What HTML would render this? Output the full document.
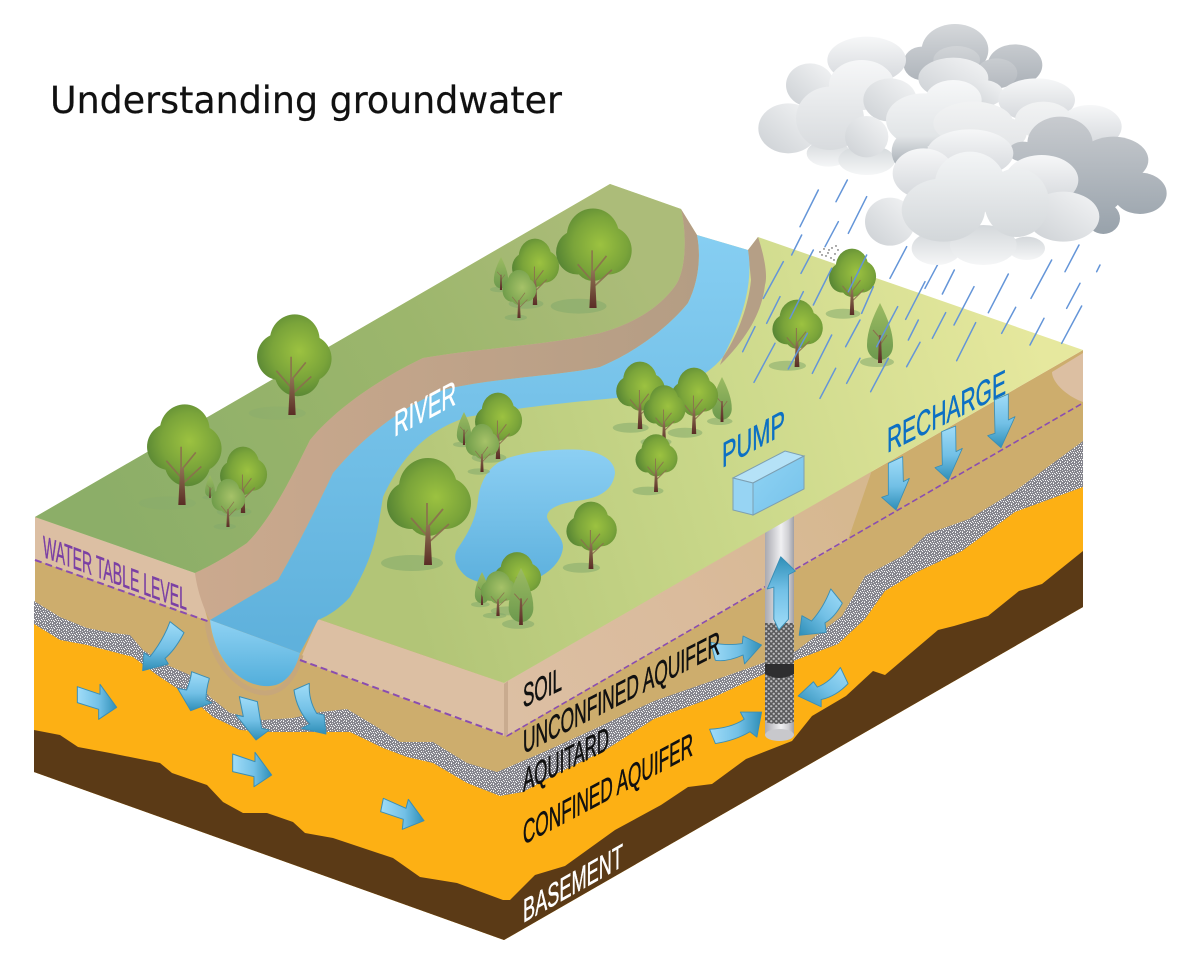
<!DOCTYPE html>
<html><head><meta charset="utf-8"><title>Understanding groundwater</title>
<style>html,body{margin:0;padding:0;background:#fff}svg{display:block}text{font-family:"Liberation Sans",sans-serif}</style></head>
<body>
<svg width="1200" height="966" viewBox="0 0 1200 966" xmlns="http://www.w3.org/2000/svg">
<defs>
<pattern id="grav" width="7" height="7" patternUnits="userSpaceOnUse"><rect width="7" height="7" fill="#85858d"/>
<rect x="0" y="0" width="1" height="1" fill="#e8e8ea"/><rect x="3" y="0" width="1" height="1" fill="#fff"/><rect x="5" y="1" width="1" height="1" fill="#d8d8dc"/><rect x="1" y="2" width="1" height="1" fill="#fff"/><rect x="3" y="2" width="1" height="1" fill="#cfcfd4"/><rect x="6" y="3" width="1" height="1" fill="#fff"/><rect x="0" y="4" width="1" height="1" fill="#d8d8dc"/><rect x="2" y="4" width="1" height="1" fill="#fff"/><rect x="4" y="4" width="1" height="1" fill="#eee"/><rect x="5" y="5" width="1" height="1" fill="#fff"/><rect x="1" y="6" width="1" height="1" fill="#eee"/><rect x="3" y="6" width="1" height="1" fill="#d8d8dc"/></pattern>
<pattern id="mesh" width="5" height="5" patternUnits="userSpaceOnUse"><rect width="5" height="5" fill="#5a5a5c"/><circle cx="1.25" cy="1.25" r="1.15" fill="#bdbdc0"/><circle cx="3.75" cy="3.75" r="1.15" fill="#bdbdc0"/></pattern>
<linearGradient id="gL" gradientUnits="userSpaceOnUse" x1="100" y1="500" x2="620" y2="230"><stop offset="0" stop-color="#8cae68"/><stop offset=".6" stop-color="#9cb66c"/><stop offset="1" stop-color="#acbc79"/></linearGradient>
<linearGradient id="gR" gradientUnits="userSpaceOnUse" x1="400" y1="560" x2="1050" y2="370"><stop offset="0" stop-color="#b2c577"/><stop offset=".5" stop-color="#cad88a"/><stop offset="1" stop-color="#e6e89e"/></linearGradient>
<linearGradient id="bank" gradientUnits="userSpaceOnUse" x1="200" y1="0" x2="700" y2="0"><stop offset="0" stop-color="#cba98e"/><stop offset="1" stop-color="#b49d84"/></linearGradient>
<linearGradient id="water" gradientUnits="userSpaceOnUse" x1="0" y1="235" x2="0" y2="640"><stop offset="0" stop-color="#86cef2"/><stop offset="1" stop-color="#5fb1dc"/></linearGradient>
<linearGradient id="pond" gradientUnits="userSpaceOnUse" x1="0" y1="450" x2="0" y2="585"><stop offset="0" stop-color="#8ccff3"/><stop offset="1" stop-color="#5cb0dd"/></linearGradient>
<linearGradient id="sect" x1="0" y1="0" x2="0" y2="1"><stop offset="0" stop-color="#8fd2f3"/><stop offset="1" stop-color="#52aedb"/></linearGradient>
<linearGradient id="lband" gradientUnits="userSpaceOnUse" x1="504" y1="700" x2="860" y2="500"><stop offset="0" stop-color="#dcbfa3"/><stop offset=".5" stop-color="#dabb9c"/><stop offset="1" stop-color="#d6b88f"/></linearGradient>
<linearGradient id="wellG" x1="0" y1="0" x2="1" y2="0"><stop offset="0" stop-color="#a9a9b0"/><stop offset=".25" stop-color="#c9c9ce"/><stop offset=".55" stop-color="#f0f0f2"/><stop offset=".8" stop-color="#d0d0d4"/><stop offset="1" stop-color="#9f9fa6"/></linearGradient>
<linearGradient id="aV" x1="0" y1="0" x2="0" y2="1"><stop offset="0" stop-color="#a0dcf8"/><stop offset=".55" stop-color="#72c0e6"/><stop offset="1" stop-color="#2f8fb8"/></linearGradient>
<linearGradient id="aH" x1="0" y1="0" x2="1" y2="0"><stop offset="0" stop-color="#a0dcf8"/><stop offset=".55" stop-color="#72c0e6"/><stop offset="1" stop-color="#2f8fb8"/></linearGradient>
<linearGradient id="aU" x1="0" y1="1" x2="0" y2="0"><stop offset="0" stop-color="#a0dcf8"/><stop offset=".55" stop-color="#72c0e6"/><stop offset="1" stop-color="#2f8fb8"/></linearGradient>
<linearGradient id="aD" x1="1" y1="0" x2="0" y2="1"><stop offset="0" stop-color="#a0dcf8"/><stop offset=".5" stop-color="#72c0e6"/><stop offset="1" stop-color="#2f8fb8"/></linearGradient>
<linearGradient id="box1" x1="0" y1="0" x2="1" y2="1"><stop offset="0" stop-color="#8fd3f4"/><stop offset="1" stop-color="#76c2ea"/></linearGradient>
<linearGradient id="cl" x1="0" y1="0" x2="0" y2="1"><stop offset="0" stop-color="#f6f7f8"/><stop offset="1" stop-color="#d4d7db"/></linearGradient>
<linearGradient id="clS" x1="1" y1="0" x2="0" y2="1"><stop offset="0" stop-color="#f4f5f6"/><stop offset="1" stop-color="#ccd0d4"/></linearGradient>
<linearGradient id="clF" x1="0" y1="0" x2="0" y2="1"><stop offset="0" stop-color="#d4d8db"/><stop offset="1" stop-color="#f5f6f7"/></linearGradient>
<linearGradient id="clA" gradientUnits="userSpaceOnUse" x1="0" y1="150" x2="0" y2="420"><stop offset="0" stop-color="#f6f7f8"/><stop offset="1" stop-color="#d8dbde"/></linearGradient>
<linearGradient id="clM" gradientUnits="userSpaceOnUse" x1="0" y1="210" x2="0" y2="490"><stop offset="0" stop-color="#f7f8f9"/><stop offset=".6" stop-color="#e2e5e7"/><stop offset="1" stop-color="#98a0a8"/></linearGradient>
<linearGradient id="clB" gradientUnits="userSpaceOnUse" x1="0" y1="210" x2="0" y2="410"><stop offset="0" stop-color="#f8f9f9"/><stop offset="1" stop-color="#e4e6e8"/></linearGradient>
<linearGradient id="clC" gradientUnits="userSpaceOnUse" x1="0" y1="425" x2="0" y2="700"><stop offset="0" stop-color="#f3f5f6"/><stop offset="1" stop-color="#d2d6d9"/></linearGradient>
<linearGradient id="cd1" gradientUnits="userSpaceOnUse" x1="0" y1="45" x2="0" y2="235"><stop offset="0" stop-color="#d4d7da"/><stop offset="1" stop-color="#aab0b7"/></linearGradient>
<linearGradient id="cd1b" gradientUnits="userSpaceOnUse" x1="0" y1="105" x2="0" y2="235"><stop offset="0" stop-color="#d2d5d8"/><stop offset="1" stop-color="#b4b9bf"/></linearGradient>
<linearGradient id="cd2" gradientUnits="userSpaceOnUse" x1="0" y1="320" x2="0" y2="672"><stop offset="0" stop-color="#c8cbcf"/><stop offset="1" stop-color="#98a2ab"/></linearGradient>
<radialGradient id="crown" gradientUnits="userSpaceOnUse" cx="8" cy="-68" r="50"><stop offset="0" stop-color="#9cc240"/><stop offset=".6" stop-color="#7aa43a"/><stop offset="1" stop-color="#578534"/></radialGradient>
<radialGradient id="crownL" gradientUnits="userSpaceOnUse" cx="8" cy="-68" r="50"><stop offset="0" stop-color="#a6c268"/><stop offset="1" stop-color="#6f9c4a"/></radialGradient>
<linearGradient id="coneG" gradientUnits="userSpaceOnUse" x1="0" y1="-60" x2="0" y2="-4"><stop offset="0" stop-color="#9cbb62"/><stop offset="1" stop-color="#6d9a4e"/></linearGradient>
<linearGradient id="tr" gradientUnits="userSpaceOnUse" x1="0" y1="-40" x2="0" y2="0"><stop offset="0" stop-color="#8f7354"/><stop offset="1" stop-color="#5a2c25"/></linearGradient>
<g id="t1"><ellipse cx="-16" cy="-2" rx="31" ry="8" fill="#84aa6c" opacity=".55"/><g fill="url(#crown)"><circle cx="0" cy="-78" r="29"/><circle cx="-17" cy="-60" r="24"/><circle cx="17" cy="-62" r="26"/><circle cx="0" cy="-50" r="21"/></g>
<g stroke="#8b6f4e" stroke-width="1.8" fill="none" opacity=".9"><path d="M0-28L-17-47M0-22L21-41M0-38L15-56M-1-35V-62"/></g><path d="M-2-40H2L4 0H-4Z" fill="url(#tr)"/></g>
<g id="t3"><ellipse cx="-16" cy="-2" rx="31" ry="7" fill="#84aa6c" opacity=".3"/><g fill="url(#crown)"><circle cx="3" cy="-80" r="27"/><circle cx="-13" cy="-62" r="25"/><circle cx="18" cy="-60" r="25"/><circle cx="6" cy="-45" r="25"/></g>
<g stroke="#8b6f4e" stroke-width="1.8" fill="none" opacity=".9"><path d="M0-28L-17-47M0-22L21-41M0-38L15-56M-1-35V-62"/></g><path d="M-2-40H2L4 0H-4Z" fill="url(#tr)"/></g>
<g id="t2"><ellipse cx="-8" cy="-1" rx="28" ry="7" fill="#84aa6c" opacity=".55"/><g fill="url(#crownL)"><circle cx="0" cy="-78" r="29"/><circle cx="-17" cy="-60" r="24"/><circle cx="17" cy="-62" r="26"/><circle cx="0" cy="-50" r="21"/></g>
<g stroke="#8b6f4e" stroke-width="1.8" fill="none" opacity=".9"><path d="M0-28L-17-47M0-22L21-41M0-38L15-56"/></g><path d="M-2-40H2L4 0H-4Z" fill="url(#tr)"/></g>
<g id="c1"><ellipse cx="-3" cy="-1" rx="17" ry="5" fill="#84aa6c" opacity=".55"/><path d="M0-60C-7-46-13-32-13-18C-13-8-6-3 0-3C6-3 13-8 13-18C13-32 7-46 0-60Z" fill="url(#coneG)"/><path d="M0-25L-7-33M0-18L7-28" stroke="#8b6f4e" stroke-width="1" fill="none"/><path d="M-1-28H1L2 0H-2Z" fill="url(#tr)"/></g>
</defs>

<text x="50" y="113" style="font-family:'DejaVu Sans',sans-serif" font-size="37" textLength="512" lengthAdjust="spacingAndGlyphs" fill="#111" stroke="#111" stroke-width=".2">Understanding groundwater</text>

<!-- faces -->
<polygon points="35,517 504,683 1083,350 1083,607 504,940 35,772" fill="#cdad6d"/>
<polygon points="35,517 195,573 208,621 35,560" fill="#dcbfa3"/>
<polygon points="318,619 504,683 504,736 300,660" fill="#dcbfa3"/>
<polygon points="504,683 872,470 848,540 506,736" fill="url(#lband)"/>
<polygon points="504,684 508,681 508,734 504,736" fill="#c9ab8f"/>
<path d="M1083,353L1052,372C1052,382 1066,396 1083,402Z" fill="#dcbfa2"/>
<path d="M207,622C212,665 240,692 265,693C285,693 297,672 301,655" fill="none" stroke="#c7a77a" stroke-width="5"/>
<!-- gravel -->
<polygon fill="url(#grav)" points="34,601 60,617 87,628 113,633 130,635 143,650 167,665 190,675 210,697 230,713 263,720 293,718 320,712 347,709 377,727 400,742 433,742 467,763 497,772 504,769 546,751 592,730 654,701 746,669 796,651 842,616 865,576 904,555 927,534 969,519 1015,491 1083,441 1083,607 504,940 34,772"/>
<!-- orange -->
<polygon fill="#fdb014" points="34,624 60,640 87,645 133,657 157,675 187,695 213,717 240,730 270,732 300,732 350,732 383,748 407,757 433,763 467,783 500,796 523,792 558,773 604,751 654,719 712,698 762,675 796,660 838,644 865,619 885,591 915,573 962,551 1015,512 1083,487 1083,607 504,940 34,772"/>
<!-- brown -->
<polygon fill="#5b3a16" points="34,730 60,735 78,747 110,753 160,763 172,773 207,785 223,802 243,813 267,813 293,822 305,833 333,838 393,858 420,877 457,883 503,900 510,900 535,875 565,866 615,830 661,805 688,787 712,784 746,759 792,741 812,716 846,696 873,671 885,675 938,630 954,626 988,616 1019,591 1042,584 1083,551 1083,607 504,940 34,772"/>

<!-- dashed water table -->
<g fill="none" stroke="#8a4db0" stroke-width="2" stroke-dasharray="7 4"><path d="M35,560L210,622M300,660L507,736"/><path d="M507,736L1083,403" stroke-dasharray="6 3" stroke-width="1.6"/></g>

<!-- water section -->
<path d="M210,620L300,653C295,672 285,685 270,686C245,688 215,665 210,620Z" fill="url(#sect)"/>

<!-- well -->
<rect x="765" y="515" width="29" height="220" fill="url(#wellG)"/>
<ellipse cx="779.5" cy="735" rx="14.5" ry="6" fill="#c8c8cc"/>
<rect x="765" y="623" width="29" height="98" fill="url(#mesh)"/>
<ellipse cx="779.5" cy="721" rx="14.5" ry="3" fill="url(#mesh)"/>
<path d="M765,664H794V674Q779,682 765,674Z" fill="#2e2e30"/>

<!-- top surface -->
<polygon points="35,517 610,184 681,209 697,235 748,250 758,237 1083,350 504,683 318,619 210,620 195,573" fill="url(#gR)"/>
<path d="M35,517L610,184L681,209C686,230 687,265 677,283C665,302 640,322 600,333C550,345 480,348 423,358C383,377 337,407 310,440C295,470 273,517 247,543C225,558 210,566 195,573Z" fill="url(#gL)"/>
<path d="M681,209L697,235C702,260 697,285 688,303C670,325 640,350 600,367C560,376 490,378 443,390C400,408 363,437 333,473C313,515 297,547 278,580L210,620C204,610 197,590 195,573C210,566 225,558 247,543C273,517 295,470 310,440C337,407 383,377 423,358C480,348 550,345 600,333C640,322 665,302 677,283C687,265 686,230 681,209Z" fill="url(#bank)"/>
<path d="M748,250L758,237C764,255 768,275 765,285C762,310 750,335 720,365L723,357C735,340 748,310 751,280Z" fill="#b59f86"/>
<path d="M697,235L748,250C753,280 745,315 723,357C700,385 660,395 617,398C560,403 517,408 467,417C430,430 405,450 383,497C377,533 375,555 350,597C340,608 330,615 318,620L300,653L210,620L278,580C297,547 313,515 333,473C363,437 400,408 443,390C490,378 560,376 600,367C640,350 670,325 688,303C697,285 702,260 697,235Z" fill="url(#water)"/>
<path d="M583,450C560,448 520,452 503,460C490,466 480,480 478,500C476,515 472,528 458,548C451,558 458,570 467,577C480,585 500,586 525,582C545,578 562,563 563,547C563,535 548,525 547,517C547,508 560,503 583,500C600,497 613,490 615,473C615,460 600,452 583,450Z" fill="url(#pond)"/>

<!-- trees -->
<use href="#c1" transform="translate(501,290) scale(.55)"/>
<use href="#t1" transform="translate(593,308) scale(.9,.93)"/>
<use href="#t1" transform="translate(535,305) scale(.56,.62)"/>
<use href="#t2" transform="translate(519,318) scale(.4,.45)"/>
<use href="#t3" transform="translate(292,415) scale(.92,.94)"/>
<use href="#c1" transform="translate(464,445) scale(.55)"/>
<use href="#t1" transform="translate(498,459) scale(.56,.62)"/>
<use href="#t2" transform="translate(482,472) scale(.4,.45)"/>
<use href="#c1" transform="translate(210,498) scale(.38)"/>
<use href="#t3" transform="translate(182,505) scale(.92,.94)"/>
<use href="#t1" transform="translate(243,513) scale(.56,.62)"/>
<use href="#t2" transform="translate(228,527) scale(.4,.45)"/>
<use href="#t1" transform="translate(428,565) scale(1)"/>
<use href="#t1" transform="translate(591,569) scale(.6,.63)"/>
<use href="#c1" transform="translate(722,422) scale(.75)"/>
<use href="#t1" transform="translate(640,429) scale(.58,.63)"/>
<use href="#t1" transform="translate(694,434) scale(.56,.62)"/>
<use href="#t1" transform="translate(664,443) scale(.5,.54)"/>
<use href="#t1" transform="translate(656,492) scale(.5,.54)"/>
<use href="#t1" transform="translate(852,315) scale(.56,.62)"/>
<use href="#t1" transform="translate(797,367) scale(.6,.63)"/>
<use href="#c1" transform="translate(880,363) scale(1)"/>
<use href="#t1" transform="translate(517,612) scale(.56)"/>
<use href="#c1" transform="translate(482,605) scale(.55)"/>
<use href="#t2" transform="translate(498,616) scale(.42)"/>
<use href="#c1" transform="translate(521,625) scale(.95)"/>

<!-- pump box -->
<g stroke="#7d9fb2" stroke-width="1"><polygon points="733,478 785,451 804,456 753,483" fill="#b5e2f7"/><polygon points="733,478 753,483 753,515 733,510" fill="#97d4f3"/><polygon points="753,483 804,456 804,489 753,515" fill="url(#box1)"/></g>

<!-- arrows left -->
<g transform="translate(0,500) scale(.33333)" stroke="#3a8eb5" stroke-width="3" stroke-linejoin="round">
<path d="M510,365L552,398Q525,450 495,475L505,492L428,512L432,458L450,470Q490,420 510,365Z" fill="url(#aV)"/>
<path d="M575,515L628,535Q618,570 618,600L635,608L572,632L533,565L560,570Q572,540 575,515Z" fill="url(#aV)"/>
<path d="M718,590L772,605L785,685L808,690L768,720L708,645L730,650Z" fill="url(#aV)"/>
<path d="M882,570L928,550Q925,600 950,640L972,645L978,702L905,685L930,672Q890,630 882,570Z" fill="url(#aV)"/>
<polygon points="232,560 300,583 300,553 350,622 296,658 296,628 232,608" fill="url(#aH)"/>
<polygon points="698,762 765,785 765,757 815,825 762,860 762,830 698,815" fill="url(#aH)"/>
<polygon points="1150,895 1218,925 1225,898 1272,962 1207,988 1210,958 1142,935" fill="url(#aH)"/>
</g>
<!-- recharge arrows -->
<g transform="translate(600,170) scale(.33333)" stroke="#3a8eb5" stroke-width="2.5" stroke-linejoin="round" fill="url(#aV)">
<polygon points="865,880 908,860 910,935 928,925 888,1020 845,982 865,975"/>
<polygon points="1025,785 1067,768 1068,845 1087,835 1045,930 1005,893 1027,885"/>
<polygon points="1183,690 1225,672 1225,750 1245,740 1203,833 1163,797 1185,790"/>
</g>
<!-- well arrows -->
<g transform="translate(500,380) scale(.3846,.3571)" stroke="#3a8eb5" stroke-width="2.5" stroke-linejoin="round">
<polygon points="712,580 695,585 730,495 768,535 750,545 750,670 725,700 712,670" fill="url(#aU)"/>
<path d="M860,585L890,625Q870,665 845,680L848,707L778,715L785,660L810,675Q840,640 860,585Z" fill="url(#aD)"/>
<path d="M548,735Q590,745 630,738L632,717L680,742L636,795L632,770Q590,790 560,785Z" fill="url(#aH)"/>
<path d="M885,805L905,850Q875,885 835,895L835,915L775,885L815,845L825,860Q860,845 885,805Z" fill="url(#aD)"/>
<path d="M545,978Q600,975 635,950L625,930L680,930L668,1000L650,985Q610,1010 560,1018Z" fill="url(#aH)"/>
</g>

<!-- rain -->
<g transform="translate(600,170) scale(.33333)" stroke="#6495d8" stroke-width="4.5" fill="none" stroke-linecap="round">
<path d="M742,30L708,95M655,60L600,170M800,80L745,190M715,155L675,230M605,195L575,255M640,240L603,310M550,275L490,385M540,380L500,460M695,295L640,405M610,365L570,445M465,470L428,545M525,520L462,637M622,490L565,597M695,495L637,610M780,450L737,530M820,350L785,430M800,255L745,365M920,230L870,325M1015,280L975,355M975,335L917,448M1063,300L1027,372M893,410L830,530M955,450L925,510M1037,428L997,505M1122,350L1062,465M1225,312L1165,428M1127,458L1070,572M960,517L920,590M780,565L740,640M707,595L660,685M865,565L812,665M1355,270L1293,385M1437,225L1395,305M1440,340L1400,415M1247,412L1205,490M1445,408L1385,520M1332,445L1290,525M1500,285L1490,305"/>
</g>
<!-- specks -->
<g fill="#333"><circle cx="820" cy="252" r=".7"/><circle cx="824" cy="249" r=".7"/><circle cx="828" cy="253" r=".7"/><circle cx="832" cy="248" r=".7"/><circle cx="836" cy="246" r=".7"/><circle cx="826" cy="256" r=".7"/><circle cx="831" cy="258" r=".7"/><circle cx="835" cy="254" r=".7"/><circle cx="838" cy="250" r=".7"/><circle cx="834" cy="260" r=".7"/><circle cx="829" cy="250" r=".7"/><circle cx="822" cy="255" r=".7"/></g>

<!-- clouds -->
<g transform="translate(740,10) scale(.33333)">
<g fill="url(#cd1)"><ellipse cx="645" cy="120" rx="100" ry="78"/><ellipse cx="825" cy="165" rx="82" ry="62"/><ellipse cx="545" cy="160" rx="55" ry="50"/></g>
<g fill="url(#cd1b)"><ellipse cx="650" cy="150" rx="70" ry="42"/><ellipse cx="770" cy="190" rx="62" ry="45"/></g>
<g fill="url(#clF)"><ellipse cx="265" cy="430" rx="65" ry="40"/><ellipse cx="380" cy="450" rx="85" ry="45"/></g>
<ellipse cx="380" cy="150" rx="118" ry="70" fill="url(#cl)"/>
<g fill="url(#clS)"><ellipse cx="210" cy="225" rx="72" ry="65"/><ellipse cx="145" cy="355" rx="90" ry="75"/></g>
<g fill="url(#clA)"><ellipse cx="365" cy="225" rx="98" ry="75"/><ellipse cx="270" cy="325" rx="102" ry="95"/></g>
<g fill="url(#clS)"><ellipse cx="640" cy="205" rx="105" ry="62"/><ellipse cx="730" cy="250" rx="60" ry="40"/><ellipse cx="450" cy="270" rx="80" ry="65"/><ellipse cx="380" cy="380" rx="65" ry="62"/></g>
<g fill="url(#clM)"><ellipse cx="550" cy="330" rx="112" ry="80"/><ellipse cx="640" cy="270" rx="85" ry="60"/><ellipse cx="510" cy="425" rx="55" ry="60"/></g>
<g fill="url(#cl)"><ellipse cx="890" cy="270" rx="115" ry="65"/><ellipse cx="1050" cy="350" rx="95" ry="65"/></g>
<g fill="url(#clB)"><ellipse cx="700" cy="340" rx="120" ry="65"/><ellipse cx="910" cy="330" rx="85" ry="55"/><ellipse cx="780" cy="370" rx="80" ry="50"/></g>
<g fill="url(#cd2)"><ellipse cx="960" cy="400" rx="98" ry="80"/><ellipse cx="850" cy="425" rx="45" ry="30"/><ellipse cx="1120" cy="450" rx="105" ry="70"/><ellipse cx="1200" cy="550" rx="80" ry="62"/><ellipse cx="1060" cy="520" rx="100" ry="95"/><ellipse cx="1090" cy="625" rx="50" ry="47"/></g>
<g fill="url(#clF)"><ellipse cx="590" cy="715" rx="75" ry="50"/><ellipse cx="860" cy="715" rx="55" ry="35"/><ellipse cx="730" cy="705" rx="100" ry="60"/></g>
<ellipse cx="690" cy="430" rx="130" ry="72" fill="url(#cl)"/>
<ellipse cx="550" cy="490" rx="92" ry="75" fill="url(#cl)"/>
<ellipse cx="905" cy="510" rx="110" ry="75" fill="url(#cl)"/>
<ellipse cx="450" cy="635" rx="75" ry="72" fill="url(#clS)"/>
<ellipse cx="970" cy="620" rx="108" ry="75" fill="url(#clS)"/>
<g fill="url(#clC)"><ellipse cx="690" cy="520" rx="105" ry="95"/><ellipse cx="610" cy="600" rx="125" ry="95"/><ellipse cx="830" cy="578" rx="97" ry="103"/></g>
</g>

<!-- labels -->
<g>
<text transform="matrix(1,-.53,0,1,394,437)" font-size="35" textLength="62" lengthAdjust="spacingAndGlyphs" fill="#fff" stroke="#fff" stroke-width=".5">RIVER</text>
<text transform="matrix(1,-.55,0,1,722,468)" font-size="35" textLength="63" lengthAdjust="spacingAndGlyphs" fill="#0c70c4" stroke="#0c70c4" stroke-width=".5">PUMP</text>
<text transform="matrix(1,-.5,0,1,887,453)" font-size="35" textLength="119" lengthAdjust="spacingAndGlyphs" fill="#0c70c4" stroke="#0c70c4" stroke-width=".5">RECHARGE</text>
<text transform="matrix(1,-.47,0,1,523,708)" font-size="33" textLength="39" lengthAdjust="spacingAndGlyphs" fill="#111" stroke="#111" stroke-width=".6">SOIL</text>
<text transform="matrix(1,-.51,0,1,523,754)" font-size="33" textLength="197" lengthAdjust="spacingAndGlyphs" fill="#111" stroke="#111" stroke-width=".6">UNCONFINED AQUIFER</text>
<text transform="matrix(1,-.5,0,1,523,792)" font-size="33" textLength="86" lengthAdjust="spacingAndGlyphs" fill="#111" stroke="#111" stroke-width=".6">AQUITARD</text>
<text transform="matrix(1,-.53,0,1,523,845)" font-size="33" textLength="170" lengthAdjust="spacingAndGlyphs" fill="#111" stroke="#111" stroke-width=".6">CONFINED AQUIFER</text>
<text transform="matrix(1,-.57,0,1,523,923)" font-size="33" textLength="100" lengthAdjust="spacingAndGlyphs" fill="#fff" stroke="#fff" stroke-width=".5">BASEMENT</text>
<text transform="matrix(1,.37,0,1,43,557)" font-size="31" textLength="144" lengthAdjust="spacingAndGlyphs" fill="#7a3fa5" stroke="#7a3fa5" stroke-width=".4">WATER TABLE LEVEL</text>
</g>
</svg>
</body></html>
